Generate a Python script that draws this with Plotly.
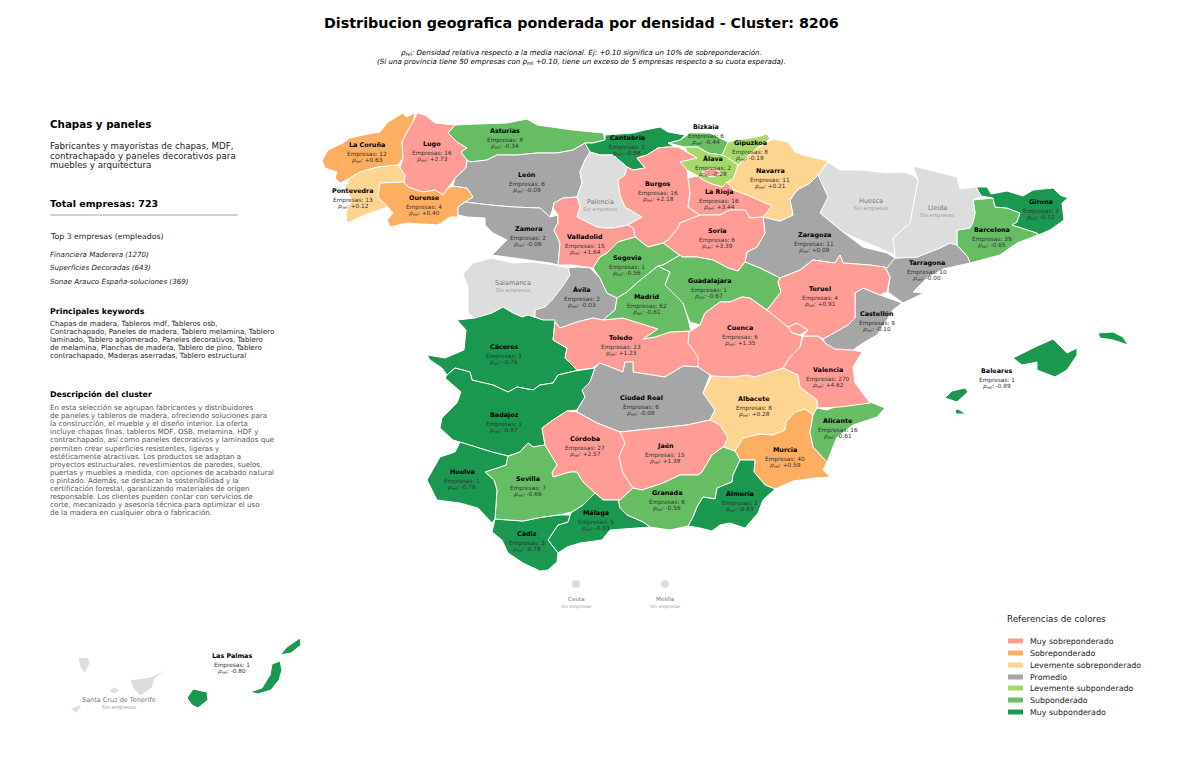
import plotly.graph_objects as go

provincias = ["La Coruña", "Lugo", "Pontevedra", "Ourense", "Asturias", "León", "Zamora", "Salamanca", "Ávila",
              "Cáceres", "Badajoz", "Toledo", "Ciudad Real", "Albacete", "Murcia", "Alicante", "Valencia", "Castellón",
              "Tarragona", "Barcelona", "Girona", "Lleida", "Huesca", "Zaragoza", "Navarra", "Gipuzkoa", "Bizkaia",
              "Álava", "Cantabria", "Palencia", "Burgos", "La Rioja", "Soria", "Valladolid", "Segovia", "Madrid",
              "Guadalajara", "Cuenca", "Teruel", "Córdoba", "Jaén", "Granada", "Almería", "Málaga", "Cádiz", "Sevilla",
              "Huelva", "Baleares", "Las Palmas", "Santa Cruz de Tenerife"]
empresas = [12, 16, 13, 4, 8, 6, 2, None, 2, 1, 1, 23, 6, 8, 40, 16, 270, 9, 10, 39, 3, None, None, 11, 11, 8, 6, 2, 1,
            None, 16, 16, 6, 15, 1, 62, 1, 6, 4, 27, 15, 6, 2, 5, 3, 7, 1, 1, 1, None]
rho = ["+0.63", "+2.73", "+0.12", "+0.40", "-0.34", "-0.09", "-0.06", None, "-0.03", "-0.75", "-0.87", "+1.23", "-0.08",
       "+0.28", "+0.59", "-0.61", "+4.62", "-0.10", "-0.00", "-0.65", "-0.72", None, None, "+0.09", "+0.21", "-0.18",
       "-0.44", "-0.28", "-0.88", None, "+2.18", "+3.44", "+3.39", "+1.64", "-0.56", "-0.61", "-0.67", "+1.35", "+0.91",
       "+2.57", "+1.38", "-0.56", "-0.83", "-0.83", "-0.78", "-0.66", "-0.78", "-0.89", "-0.80", None]
categoria = ["Sobreponderado", "Muy sobreponderado", "Levemente sobreponderado", "Sobreponderado", "Subponderado",
             "Promedio", "Promedio", None, "Promedio", "Muy subponderado", "Muy subponderado", "Muy sobreponderado",
             "Promedio", "Levemente sobreponderado", "Sobreponderado", "Subponderado", "Muy sobreponderado", "Promedio",
             "Promedio", "Subponderado", "Muy subponderado", None, None, "Promedio", "Levemente sobreponderado",
             "Levemente subponderado", "Subponderado", "Levemente subponderado", "Muy subponderado", None,
             "Muy sobreponderado", "Muy sobreponderado", "Muy sobreponderado", "Muy sobreponderado", "Subponderado",
             "Subponderado", "Subponderado", "Muy sobreponderado", "Muy sobreponderado", "Muy sobreponderado",
             "Muy sobreponderado", "Subponderado", "Muy subponderado", "Muy subponderado", "Muy subponderado",
             "Subponderado", "Muy subponderado", "Muy subponderado", "Muy subponderado", None]

leyenda = ["Muy sobreponderado", "Sobreponderado", "Levemente sobreponderado", "Promedio",
           "Levemente subponderado", "Subponderado", "Muy subponderado"]
colores = ["#ff9c96", "#fdae61", "#fed491", "#a6a6a6", "#a6d96a", "#66bd63", "#1a9850"]
color_sin_datos = "#dddddd"

# contornos (no hay geojson sin red)
contornos = {
    "La Coruña": [[(322,161),(328,150),(343,143),(350,138),(363,135),(380,132),(388,122),(403,113),(406,117),(415,113),(413,122),(407,132),(402,142),(403,158),(398,165),(378,167),(360,172),(350,178),(340,183),(335,178),(337,172),(325,168)]],
    "Lugo": [[(417,113),(425,115),(435,123),(455,125),(448,133),(457,142),(467,148),(461,152),(467,160),(466,168),(455,178),(448,188),(443,195),(435,190),(423,192),(408,187),(404,182),(405,175),(400,168),(403,158),(402,142),(407,132),(413,122)]],
    "Pontevedra": [[(398,165),(405,175),(404,182),(380,183),(378,197),(388,207),(365,215),(347,223),(346,212),(352,200),(345,188),(350,178),(360,172),(378,167)]],
    "Ourense": [[(380,183),(404,182),(408,187),(423,192),(435,190),(443,195),(448,188),(453,186),(467,188),(473,197),(465,202),(458,207),(458,217),(450,217),(438,225),(425,224),(407,223),(390,227),(387,220),(393,213),(388,207),(378,197)]],
    "Asturias": [[(448,133),(455,125),(477,124),(507,123),(527,119),(537,125),(573,130),(603,133),(605,140),(593,143),(585,143),(573,150),(557,153),(537,153),(517,155),(497,155),(487,160),(470,162),(467,160),(461,152),(467,148),(457,142)]],
    "León": [[(467,160),(470,162),(487,160),(497,155),(517,155),(537,153),(557,153),(573,150),(585,143),(590,152),(585,160),(580,172),(582,183),(577,197),(563,198),(554,203),(553,208),(550,217),(540,208),(513,207),(490,205),(473,203),(465,202),(473,197),(467,188),(453,186),(455,178),(466,168)]],
    "Zamora": [[(465,202),(473,203),(490,205),(513,207),(540,208),(550,217),(558,215),(558,223),(554,230),(560,243),(558,265),(550,263),(523,259),(507,257),(492,255),(507,240),(493,233),(485,225),(485,218),(467,217),(458,215),(458,207)]],
    "Salamanca": [[(463,274),(473,263),(492,258),(513,263),(533,262),(555,265),(568,268),(570,275),(562,287),(552,300),(545,307),(535,310),(535,317),(528,315),(522,317),(513,313),(503,307),(492,313),(475,318),(468,313),(468,287)]],
    "Ávila": [[(568,268),(577,267),(590,268),(600,278),(607,293),(617,298),(615,310),(603,320),(593,318),(577,322),(560,328),(555,322),(543,320),(535,317),(535,310),(545,307),(552,300),(562,287),(570,275)],
              [(580,371),(583,363),(591,365),(588,371)], [(619,295),(626,293),(625,298),(619,299)]],
    "Cáceres": [[(457,320),(475,318),(492,313),(503,307),(513,313),(522,317),(528,315),(535,317),(543,320),(555,320),(553,340),(567,348),(565,358),(577,370),(575,371),(558,375),(553,383),(540,385),(533,390),(517,387),(508,392),(493,385),(483,383),(472,380),(470,372),(455,368),(447,375),(442,368),(430,360),(427,355),(445,358),(464,350),(466,330)]],
    "Badajoz": [[(445,378),(447,375),(455,368),(470,372),(472,380),(483,383),(493,385),(508,392),(517,387),(533,390),(540,385),(553,383),(558,375),(575,371),(595,368),(590,382),(582,390),(585,397),(577,410),(567,411),(553,420),(542,428),(545,445),(533,447),(528,443),(520,452),(508,456),(492,452),(473,446),(460,442),(453,440),(440,428),(442,418),(457,403),(461,392)]],
    "Toledo": [[(555,322),(560,328),(577,322),(593,318),(603,320),(623,318),(637,322),(658,329),(643,339),(655,337),(670,332),(691,331),(692,347),(699,358),(700,367),(683,366),(665,377),(652,375),(633,372),(633,362),(625,362),(623,372),(600,363),(593,368),(577,370),(565,358),(567,348),(553,340)]],
    "Ciudad Real": [[(595,368),(600,363),(623,372),(625,362),(633,362),(633,372),(652,375),(665,377),(683,366),(700,367),(710,375),(703,393),(715,410),(710,420),(687,425),(660,428),(620,432),(597,423),(577,412),(577,410),(585,397),(582,390),(590,382)]],
    "Albacete": [[(703,393),(712,376),(733,377),(748,375),(755,377),(783,368),(798,375),(800,387),(817,400),(817,413),(813,415),(805,409),(795,412),(786,422),(785,430),(773,435),(760,434),(743,438),(735,451),(723,447),(728,438),(720,425),(710,420),(715,410)]],
    "Murcia": [[(735,451),(743,438),(760,434),(773,435),(785,430),(786,422),(795,412),(805,409),(813,415),(810,432),(813,447),(827,462),(823,470),(830,477),(815,478),(793,481),(775,489),(765,485),(754,472),(755,460),(740,460)]],
    "Alicante": [[(817,408),(827,410),(840,405),(870,402),(885,408),(877,417),(853,425),(837,437),(827,462),(813,447),(810,432),(813,415)]],
    "Valencia": [[(783,368),(790,357),(800,347),(803,336),(818,336),(825,343),(835,349),(853,350),(862,352),(853,367),(855,383),(870,403),(840,407),(818,408),(817,400),(800,387),(798,375)],
                 [(788,327),(797,323),(808,330),(800,335),(792,333)]],
    "Castellón": [[(823,339),(848,325),(855,318),(855,293),(863,288),(880,295),(902,303),(893,310),(888,318),(877,335),(863,343),(853,350),(835,349),(825,343)]],
    "Tarragona": [[(895,258),(917,257),(940,248),(950,243),(957,245),(968,257),(970,263),(943,269),(927,278),(913,292),(924,293),(903,303),(888,292),(890,277),(885,267)]],
    "Barcelona": [[(973,200),(993,198),(995,207),(1007,208),(1020,213),(1017,222),(1012,225),(1037,233),(1038,235),(1017,243),(1000,255),(970,263),(968,257),(957,245),(957,230),(970,228),(973,222),(975,213)]],
    "Girona": [[(976,187),(987,187),(991,194),(1007,191),(1023,196),(1033,190),(1053,188),(1060,195),(1068,198),(1062,203),(1064,220),(1050,230),(1038,235),(1037,233),(1012,225),(1017,222),(1020,213),(1007,208),(995,207),(993,198),(981,196)]],
    "Lleida": [[(913,166),(940,173),(957,177),(960,189),(976,187),(981,196),(973,200),(975,213),(973,222),(970,228),(957,230),(957,245),(950,243),(940,248),(917,257),(895,258),(893,238),(910,223),(918,180)]],
    "Huesca": [[(828,162),(840,170),(860,170),(887,173),(903,172),(913,175),(918,180),(910,223),(893,238),(895,255),(877,247),(860,240),(843,232),(820,213),(828,197),(818,175)]],
    "Zaragoza": [[(818,175),(828,197),(820,213),(843,232),(863,247),(887,253),(895,258),(887,268),(870,265),(843,263),(840,255),(835,263),(813,260),(800,270),(780,278),(760,268),(745,262),(747,252),(757,247),(765,233),(763,217),(780,221),(793,215),(790,200),(797,190),(810,183)]],
    "Navarra": [[(733,179),(738,165),(757,148),(773,139),(788,142),(795,152),(803,155),(828,161),(818,175),(810,183),(797,190),(790,200),(793,215),(780,221),(763,217),(772,206),(747,195),(733,190),(727,182)]],
    "Gipuzkoa": [[(725,143),(737,140),(757,137),(767,134),(770,139),(757,148),(738,165),(728,158),(722,155)]],
    "Bizkaia": [[(668,143),(680,140),(690,133),(710,133),(728,142),(722,155),(708,153),(698,147),(685,147),(675,145)]],
    "Álava": [[(685,147),(698,147),(708,153),(722,155),(728,158),(738,165),(733,179),(727,182),(722,187),(712,184),(703,180),(698,176),(687,170),(678,162),(688,158),(697,158),(687,152)]],
    "Cantabria": [[(605,135),(633,133),(645,130),(660,127),(668,132),(685,135),(680,140),(668,143),(675,147),(668,147),(658,148),(647,155),(637,158),(645,168),(633,170),(627,167),(613,155),(600,155),(590,152),(585,143),(593,143),(605,140)]],
    "Palencia": [[(590,152),(600,155),(613,155),(627,167),(625,175),(618,180),(620,195),(625,207),(642,217),(628,225),(613,228),(605,228),(597,227),(577,217),(580,207),(577,197),(582,183),(580,172),(585,160)]],
    "Burgos": [[(637,158),(647,155),(658,148),(668,147),(678,147),(687,152),(697,158),(680,162),(687,170),(688,178),(690,193),(688,207),(700,215),(680,223),(678,228),(668,240),(663,243),(648,247),(635,237),(633,228),(628,225),(642,217),(625,207),(620,195),(618,180),(625,175),(627,167),(633,170),(645,168)],
               [(702,172),(712,168),(722,173),(713,177),(703,175)]],
    "La Rioja": [[(688,178),(698,176),(703,180),(712,184),(722,187),(727,182),(733,190),(747,195),(772,206),(763,217),(750,218),(745,210),(730,210),(720,215),(710,215),(700,215),(688,207),(690,193)]],
    "Soria": [[(700,215),(710,215),(720,215),(730,210),(745,210),(750,218),(763,217),(765,233),(757,247),(747,252),(745,262),(738,271),(728,268),(713,260),(697,257),(682,257),(663,243),(668,240),(678,228),(680,223)]],
    "Valladolid": [[(554,203),(563,198),(577,197),(580,207),(577,217),(597,227),(605,228),(613,228),(628,225),(633,228),(635,237),(618,242),(607,253),(600,257),(593,268),(573,265),(558,265),(560,243),(554,230),(558,223),(558,215),(553,208)]],
    "Segovia": [[(635,237),(648,247),(663,243),(682,257),(680,255),(663,265),(658,266),(638,282),(627,292),(617,298),(607,293),(600,278),(593,268),(600,257),(607,253),(618,242)]],
    "Madrid": [[(617,298),(627,292),(638,282),(658,266),(670,272),(665,285),(683,303),(687,315),(691,331),(670,332),(655,337),(643,339),(658,329),(637,322),(623,318),(603,320),(615,310)]],
    "Guadalajara": [[(682,257),(697,257),(713,260),(728,268),(738,271),(745,262),(760,268),(780,278),(778,282),(781,292),(767,310),(750,298),(742,297),(730,302),(720,302),(705,313),(700,325),(690,322),(687,315),(683,303),(665,285),(670,272),(658,266),(663,265),(680,255)]],
    "Cuenca": [[(689,332),(700,325),(705,313),(720,302),(730,302),(742,297),(750,298),(767,310),(787,325),(792,333),(802,336),(800,347),(790,357),(783,368),(755,377),(748,375),(733,377),(712,376),(698,367),(698,357),(688,343)]],
    "Teruel": [[(767,310),(781,292),(778,282),(780,278),(800,270),(813,260),(835,263),(840,255),(843,263),(870,265),(885,267),(890,277),(887,292),(880,295),(863,288),(855,293),(855,318),(848,325),(823,339),(818,336),(803,336),(808,330),(797,323),(788,327)]],
    "Córdoba": [[(567,411),(577,412),(597,423),(620,432),(625,443),(619,457),(623,473),(633,488),(620,500),(603,500),(595,493),(583,482),(577,472),(570,472),(560,475),(553,477),(552,472),(557,465),(552,457),(545,445),(542,428),(553,420)]],
    "Jaén": [[(620,432),(660,428),(687,425),(710,420),(720,425),(728,438),(723,447),(712,455),(702,472),(698,475),(680,475),(663,483),(642,490),(633,488),(623,473),(619,457),(625,443)]],
    "Granada": [[(633,488),(642,490),(663,483),(680,475),(698,475),(702,472),(712,455),(723,447),(735,451),(740,460),(733,475),(732,482),(717,488),(715,499),(703,497),(697,507),(693,517),(688,526),(670,530),(650,527),(643,522),(627,515),(620,508),(618,500),(620,500)]],
    "Almería": [[(740,460),(755,460),(754,472),(765,485),(775,489),(763,500),(758,513),(745,528),(730,523),(720,525),(712,531),(700,528),(688,526),(693,517),(697,507),(703,497),(715,499),(717,488),(732,482),(733,475)]],
    "Málaga": [[(572,512),(583,505),(595,493),(603,500),(618,500),(620,508),(627,515),(643,522),(650,527),(633,528),(610,530),(602,540),(580,543),(567,547),(558,553),(548,540),(558,525),(568,522),(570,515)]],
    "Cádiz": [[(495,519),(523,521),(543,517),(558,515),(570,515),(568,522),(558,525),(548,540),(558,553),(557,562),(548,570),(540,571),(523,563),(508,553),(502,540),(492,532)]],
    "Sevilla": [[(485,472),(497,468),(506,465),(506,457),(520,452),(528,443),(533,447),(545,445),(552,457),(557,465),(552,472),(553,477),(560,475),(570,472),(577,472),(583,482),(595,493),(583,505),(572,512),(558,515),(543,517),(523,521),(495,519),(497,490),(494,480)]],
    "Huelva": [[(460,442),(473,446),(492,452),(508,456),(506,465),(485,472),(494,480),(497,490),(495,519),(492,523),(478,508),(460,503),(437,500),(427,480),(440,457),(455,452)]],
    "Baleares": [[(1013,358),(1033,348),(1053,339),(1058,344),(1067,353),(1077,348),(1077,355),(1067,370),(1055,377),(1037,370),(1037,362),(1022,365)],
                 [(1098,333),(1113,332),(1123,337),(1128,345),(1113,340),(1100,338)],
                 [(945,398),(952,391),(965,388),(968,392),(957,402)], [(955,410),(958,409),(966,414),(956,414)]],
    "Las Palmas": [[(187,698),(193,689),(207,692),(208,700),(198,708),(192,705)],
                   [(250,692),(262,688),(270,675),(272,664),(280,661),(282,670),(279,680),(271,690),(258,694)],
                   [(280,655),(287,647),(300,638),(301,645),(291,653)]],
    "Santa Cruz de Tenerife": [[(130,680),(150,677),(167,670),(155,678),(152,688),(140,696),(133,688)],
                               [(109,690),(115,687),(120,691),(113,694)], [(78,658),(88,657),(90,663),(85,673),(80,667)],
                               [(70,709),(82,704),(77,713)]],
}

# posicion del nombre de cada provincia en la imagen
etiqueta_x = [367, 432, 353, 424, 505, 527, 528, 513, 582, 504, 504, 621, 641, 754, 785, 838, 828, 877, 927, 992, 1041,
              937, 871, 814, 770, 750, 706, 713, 627, 600, 658, 719, 717, 585, 627, 647, 709, 740, 820, 585, 665, 667,
              740, 596, 527, 528, 462, 997, 232, 119]
etiqueta_y = [145, 144, 191, 198, 131, 175, 229, 283, 290, 347, 415, 338, 398, 399, 450, 421, 370, 314, 263, 230, 202,
              208, 201, 235, 171, 143, 127, 159, 138, 202, 184, 192, 231, 237, 258, 297, 281, 328, 289, 439, 446, 493,
              494, 513, 534, 479, 472, 371, 656, 700]

ciudades = ["Ceuta", "Melilla"]
ciudad_x = [576, 665]
ciudad_y = [584, 584]

total_empresas = 723
top_empresas = ["Financiera Maderera (1270)", "Superficies Decoradas (643)", "Sonae Arauco España-soluciones (369)"]
subtitulo_cluster = ["Fabricantes y mayoristas de chapas, MDF,", "contrachapado y paneles decorativos para",
                     "muebles y arquitectura"]
keywords = ["Chapas de madera, Tableros mdf, Tableros osb,",
            "Contrachapado, Paneles de madera, Tablero melamina, Tablero",
            "laminado, Tablero aglomerado, Paneles decorativos, Tablero",
            "de melamina, Planchas de madera, Tablero de pino, Tablero",
            "contrachapado, Maderas aserradas, Tablero estructural"]
descripcion = ["En esta selección se agrupan fabricantes y distribuidores",
               "de paneles y tableros de madera, ofreciendo soluciones para",
               "la construcción, el mueble y el diseño interior. La oferta",
               "incluye chapas finas, tableros MDF, OSB, melamina, HDF y",
               "contrachapado, así como paneles decorativos y laminados que",
               "permiten crear superficies resistentes, ligeras y",
               "estéticamente atractivas. Los productos se adaptan a",
               "proyectos estructurales, revestimientos de paredes, suelos,",
               "puertas y muebles a medida, con opciones de acabado natural",
               "o pintado. Además, se destacan la sostenibilidad y la",
               "certificación forestal, garantizando materiales de origen",
               "responsable. Los clientes pueden contar con servicios de",
               "corte, mecanizado y asesoría técnica para optimizar el uso",
               "de la madera en cualquier obra o fabricación."]

FONT = "DejaVu Sans"
fig = go.Figure()


def texto(x, y, s, size, color="#000000", anchor="left"):
    fig.add_annotation(x=x, y=y, text=s, showarrow=False, xanchor=anchor, yanchor="middle", align=anchor,
                       font=dict(family=FONT, size=size, color=color), borderpad=0, borderwidth=0)


# 1. provincias
for nombre, cat in zip(provincias, categoria):
    color = colores[leyenda.index(cat)] if cat else color_sin_datos
    xs, ys = [], []
    for parte in contornos[nombre]:
        xs += [p[0] for p in parte] + [parte[0][0], None]
        ys += [p[1] for p in parte] + [parte[0][1], None]
    fig.add_trace(go.Scatter(x=xs, y=ys, mode="lines", fill="toself", fillcolor=color,
                             line=dict(color="white", width=1), hoverinfo="skip", showlegend=False))

fig.add_trace(go.Scatter(x=ciudad_x, y=ciudad_y, mode="markers", hoverinfo="skip", showlegend=False,
                         marker=dict(size=8, color=color_sin_datos)))

# 2. etiquetas
for nombre, n, r, x, y in zip(provincias, empresas, rho, etiqueta_x, etiqueta_y):
    if n is None:
        texto(x, y, nombre, 6.5, "#777777", "center")
        texto(x, y + 7, "Sin empresas", 5.1, "#999999", "center")
    else:
        texto(x, y, f"<b>{nombre}</b>", 6.4, "#000000", "center")
        texto(x, y + 9, f"Empresas: {n}", 5.8, "#333333", "center")
        texto(x, y + 15.5, f"<i>ρ</i><sub>rel</sub>: {r}", 5.8, "#333333", "center")

for nombre, x, y in zip(ciudades, ciudad_x, ciudad_y):
    texto(x, y + 15, nombre, 5.7, "#777777", "center")
    texto(x, y + 22, "Sin empresas", 4.5, "#999999", "center")

# 3. textos de cabecera
texto(581, 23, "<b>Distribucion geografica ponderada por densidad - Cluster: 8206</b>", 14.3, "#000000", "center")
texto(581, 52, "<i>ρ</i><sub>rel</sub><i>: Densidad relativa respecto a la media nacional. Ej: +0.10 significa un 10% de sobreponderación.</i>",
      7.1, "#000000", "center")
texto(581, 61, "<i>(Si una provincia tiene 50 empresas con ρ</i><sub>rel</sub><i> +0.10, tiene un exceso de 5 empresas respecto a su cuota esperada).</i>",
      7.1, "#000000", "center")

# 4. panel izquierdo
texto(50, 124, "<b>Chapas y paneles</b>", 10.3)
for y, linea in zip([146, 156, 165], subtitulo_cluster):
    texto(50, y, linea, 8.7, "#222222")
texto(50, 203, f"<b>Total empresas: {total_empresas}</b>", 9.5)
fig.add_shape(type="line", x0=50, x1=238, y0=215, y1=215, line=dict(color="#aaaaaa", width=1))
texto(50, 236, "Top 3 empresas (empleados)", 7.8, "#222222")
for y, linea in zip([254, 267, 281], top_empresas):
    texto(50, y, f"<i>{linea}</i>", 7.1, "#222222")
texto(50, 311, "<b>Principales keywords</b>", 7.9)
for y, linea in zip([323, 331, 339, 347, 355], keywords):
    texto(50, y, linea, 7.1, "#222222")
texto(50, 394, "<b>Descripción del cluster</b>", 7.9)
for i, linea in enumerate(descripcion):
    texto(50, 407.5 + i * 8.1, linea, 7.1, "#555555")

# 5. referencias de colores
texto(1007, 619, "Referencias de colores", 8.75, "#222222")
for y, nombre, color in zip([641, 653, 665, 677, 688, 700, 712], leyenda, colores):
    fig.add_shape(type="rect", x0=1008, x1=1023, y0=y - 2.5, y1=y + 2.5, fillcolor=color, line_width=0)
    texto(1030, y, nombre, 7.9, "#222222")

fig.update_xaxes(visible=False, range=[0, 1200], fixedrange=True)
fig.update_yaxes(visible=False, range=[761, 0], fixedrange=True)
fig.update_layout(width=1200, height=761, margin=dict(l=0, r=0, t=0, b=0), plot_bgcolor="white", paper_bgcolor="white",
                  showlegend=False)

# quitar el margen del body para que el grafico empiece en 0,0
fig.write_html("out.html", config={"displayModeBar": False}, post_script="document.body.style.margin = '0';")
